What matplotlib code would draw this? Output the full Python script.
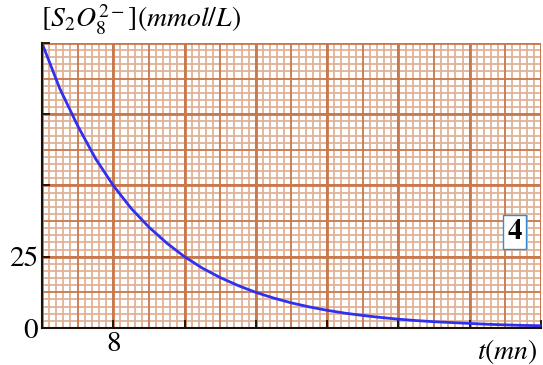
import numpy as np
import matplotlib
matplotlib.use("Agg")
import matplotlib.pyplot as plt

plt.rcParams['mathtext.fontset'] = 'stix'
plt.rcParams['font.family'] = ['STIXGeneral', 'DejaVu Serif']

# values, every 2 min
t_values = [0, 2, 4, 6, 8, 10, 12, 14, 16, 18, 20, 22, 24, 26, 28,
            30, 32, 34, 36, 38, 40, 42, 44, 46, 48, 50, 52, 54, 56]
conc_values = [100, 84, 71, 59.5, 50, 42, 35.4, 29.8, 25, 21, 17.7, 14.9, 12.5, 10.5, 8.8,
               7.4, 6.2, 5.2, 4.4, 3.7, 3.1, 2.6, 2.2, 1.9, 1.6, 1.3, 1.1, 0.9, 0.8]

x_ticks = [0, 8, 16, 24, 32, 40, 48, 56]
x_ticklabels = ["", "8", "", "", "", "", "", ""]
y_ticks = [0, 25, 50, 75, 100]
y_ticklabels = ["0", "25", "", "", ""]

fig = plt.figure(figsize=(5.43, 3.65), dpi=100)
ax = fig.add_axes([0.0773, 0.1014, 0.919, 0.7808])
ax.set_xlim(0, 56)
ax.set_ylim(0, 100)

# millimetre paper
minor_c = "#dfb297"
major_c = "#c8784c"
for x in np.arange(0, 56.01, 0.8):
    ax.axvline(x, color=minor_c, lw=1.3, zorder=0)
for y in np.arange(0, 100.01, 2.5):
    ax.axhline(y, color=minor_c, lw=1.3, zorder=0)
for x in np.arange(0, 56.01, 4):
    ax.axvline(x, color=major_c, lw=1.2, zorder=0.5)
for y in np.arange(0, 100.01, 12.5):
    ax.axhline(y, color=major_c, lw=1.2, zorder=0.5)
for x in np.arange(0, 56.01, 8):
    ax.axvline(x, color=major_c, lw=2.0, zorder=0.6)
for y in np.arange(0, 100.01, 25):
    ax.axhline(y, color=major_c, lw=2.0, zorder=0.6)

ax.plot(t_values, conc_values, color="#3030f0", lw=2, zorder=3)

ax.spines['top'].set_visible(False)
ax.spines['right'].set_visible(False)
ax.spines['left'].set_color("#1a1008")
ax.spines['bottom'].set_color("#1a1008")
ax.spines['left'].set_linewidth(1.5)
ax.spines['bottom'].set_linewidth(1.5)
ax.spines['left'].set_zorder(4)
ax.spines['bottom'].set_zorder(4)

ax.set_xticks(x_ticks)
ax.set_xticklabels(x_ticklabels, fontsize=21)
ax.set_yticks(y_ticks)
ax.set_yticklabels(y_ticklabels, fontsize=21)
ax.tick_params(direction="in", length=6, width=1.3, color="#1a1008", pad=3)

fig.text(0.075, 0.945, r"$[S_2O_8^{2-}](mmol/L)$", fontsize=20, va="center", ha="left")
fig.text(0.99, 0.038, r"$t(mn)$", fontsize=20, va="center", ha="right")

ax.text(53, 33.7, "4", fontsize=21, fontweight="bold", ha="center", va="center", zorder=5,
        bbox=dict(boxstyle="square,pad=0.15", fc="white", ec="#3a8ad0", lw=1))

fig.savefig("out.png", dpi=100)
